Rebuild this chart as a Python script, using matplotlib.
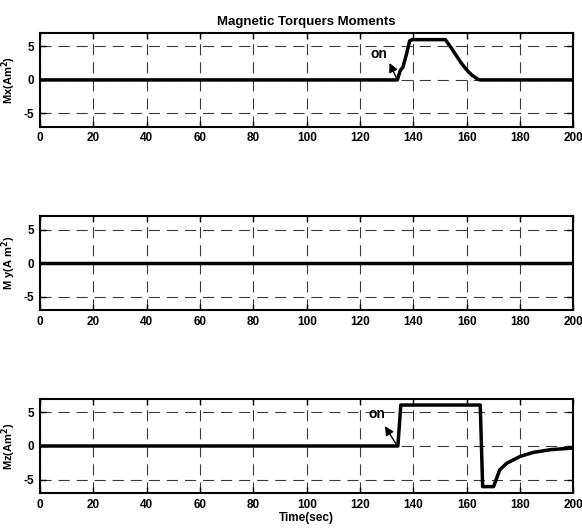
import matplotlib.pyplot as plt

plt.rcParams['font.family'] = ['Liberation Sans', 'DejaVu Sans']
plt.rcParams['font.weight'] = 'bold'
plt.rcParams['mathtext.default'] = 'bf'
plt.rcParams['axes.unicode_minus'] = False
plt.rcParams['lines.scale_dashes'] = False

# time (sec) and torquer moments (A m^2)
t_x = [0, 134, 135.1, 136.1, 137.6, 138.6, 139.5, 152, 154, 156, 158, 160, 162, 164, 165, 200]
mx = [0, 0, 1.4, 1.9, 4.1, 5.8, 6.0, 6.0, 4.9, 3.7, 2.5, 1.5, 0.7, 0.15, 0, 0]

t_y = [0, 200]
my = [0, 0]

t_z = [0, 134.2, 135.3, 165.1, 166.0, 170.1, 172.4, 175.1, 180.1, 185.1, 191.4, 200]
mz = [0, 0, 6.1, 6.1, -6.05, -6.05, -3.55, -2.55, -1.55, -0.95, -0.55, -0.3]

xticks = [0, 20, 40, 60, 80, 100, 120, 140, 160, 180, 200]
yticks = [-5, 0, 5]

fig = plt.figure(figsize=(5.82, 5.31), dpi=100)
left, width, height = 0.069, 0.916, 0.177
bottoms = [0.761, 0.416, 0.0716]
series = [(t_x, mx, 'Mx(Am$^{2}$)'),
          (t_y, my, 'M y(A m$^{2}$)'),
          (t_z, mz, 'Mz(Am$^{2}$)')]

axes = []
for b, (t, m, lab) in zip(bottoms, series):
    ax = fig.add_axes([left, b, width, height])
    ax.plot(t, m, color='black', lw=2.5)
    ax.set_xlim(0, 200)
    ax.set_ylim(-7, 7)
    ax.set_xticks(xticks)
    ax.set_yticks(yticks)
    ax.grid(True, color='#3a3a3a', linestyle=(0, (8, 5)), lw=0.8)
    ax.tick_params(direction='in', length=4, width=1, top=True, right=True,
                   labelsize=8.5, pad=4)
    for s in ax.spines.values():
        s.set_linewidth(1.5)
    ax.set_ylabel(lab, fontsize=8, fontweight='bold', labelpad=4)
    axes.append(ax)

axes[0].set_title('Magnetic Torquers Moments', fontsize=9.5, fontweight='bold', pad=6)
axes[2].set_xlabel('Time(sec)', fontsize=8.5, fontweight='bold', labelpad=1)

arrow = dict(arrowstyle='-|>', color='black', lw=1.0, mutation_scale=13)
axes[0].annotate('', xy=(130.6, 2.9), xytext=(134, 0), arrowprops=arrow)
axes[0].text(127, 3.9, 'on', ha='center', va='center', fontsize=10, fontweight='bold')
axes[2].annotate('', xy=(128.8, 3.3), xytext=(134, 0), arrowprops=arrow)
axes[2].text(126.5, 4.7, 'on', ha='center', va='center', fontsize=10, fontweight='bold')

fig.savefig('out.png', dpi=100)
